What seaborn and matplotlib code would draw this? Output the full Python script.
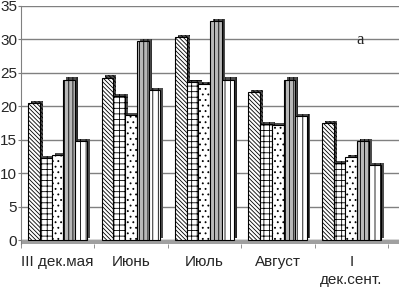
import matplotlib
matplotlib.use('Agg')
import matplotlib.pyplot as plt
import matplotlib.patheffects as pe
import seaborn as sns
import pandas as pd

# --- 資料 ---
periods = ['III дек.мая', 'Июнь', 'Июль', 'Август', 'I\nдек.сент.']
series = ['s1', 's2', 's3', 's4', 's5']
s1 = [20.5, 24.3, 30.3, 22.2, 17.5]
s2 = [12.3, 21.5, 23.6, 17.4, 11.6]
s3 = [12.7, 18.7, 23.4, 17.2, 12.5]
s4 = [24.0, 29.7, 32.8, 24.0, 14.8]
s5 = [14.9, 22.5, 24.0, 18.5, 11.2]

# --- 樣式 ---
faces = ['white', 'white', 'white', '#b8b8b8', 'white']
hatches = ['\\\\\\\\\\\\\\\\', '+++', '...', '||||', '|||']

sns.set_style('white')
plt.rcParams['font.family'] = ['Liberation Sans', 'DejaVu Sans']
plt.rcParams['hatch.linewidth'] = 0.6

rows = []
for name, vals in zip(series, [s1, s2, s3, s4, s5]):
    for p, v in zip(periods, vals):
        rows.append({'period': p, 'series': name, 'value': v})
df = pd.DataFrame(rows)

fig = plt.figure(figsize=(3.99, 2.92), dpi=100)
ax = fig.add_axes([0.052, 0.165, 0.948, 0.815])

sns.barplot(data=df, x='period', y='value', hue='series', order=periods,
            hue_order=series, width=0.8, legend=False, ax=ax,
            edgecolor='black', linewidth=0.8)

shadow = [pe.SimplePatchShadow(offset=(2.2, 1.5), shadow_rgbFace='0.3', alpha=1.0),
          pe.Normal()]
for cont, fc, h in zip(ax.containers, faces, hatches):
    for bar in cont:
        bar.set_facecolor(fc)
        bar.set_hatch(h)
        bar.set_edgecolor('black')
        bar.set_path_effects(shadow)
        bar.set_zorder(3)

# 地板
ax.axhspan(-0.5, 0, color='#a0a0a0', zorder=1)

ax.set_ylim(-0.5, 35)
ax.set_xlim(-0.5, 4.65)
ax.set_yticks(range(0, 36, 5))
ax.yaxis.grid(True, color='#808080', linewidth=1)
ax.set_axisbelow(True)
ax.set_xlabel('')
ax.set_ylabel('')

for s in ['top', 'right', 'bottom']:
    ax.spines[s].set_visible(False)
ax.spines['left'].set_color('#808080')

ax.tick_params(axis='y', labelsize=11, length=2, pad=0.5, color='#808080', left=True)
ax.tick_params(axis='x', which='major', labelsize=11, length=0, pad=8)
ax.set_xticks([-0.5, 0.5, 1.5, 2.5, 3.5, 4.5], minor=True)
ax.tick_params(axis='x', which='minor', length=3, color='#808080', bottom=True)
for lab in ax.get_xticklabels():
    lab.set_linespacing(1.4)
    lab.set_verticalalignment('top')

ax.text(0.897, 0.857, 'а', transform=ax.transAxes, ha='center', va='center',
        fontsize=12, family=['Liberation Serif', 'DejaVu Serif'])

fig.savefig('out.png', dpi=100)
